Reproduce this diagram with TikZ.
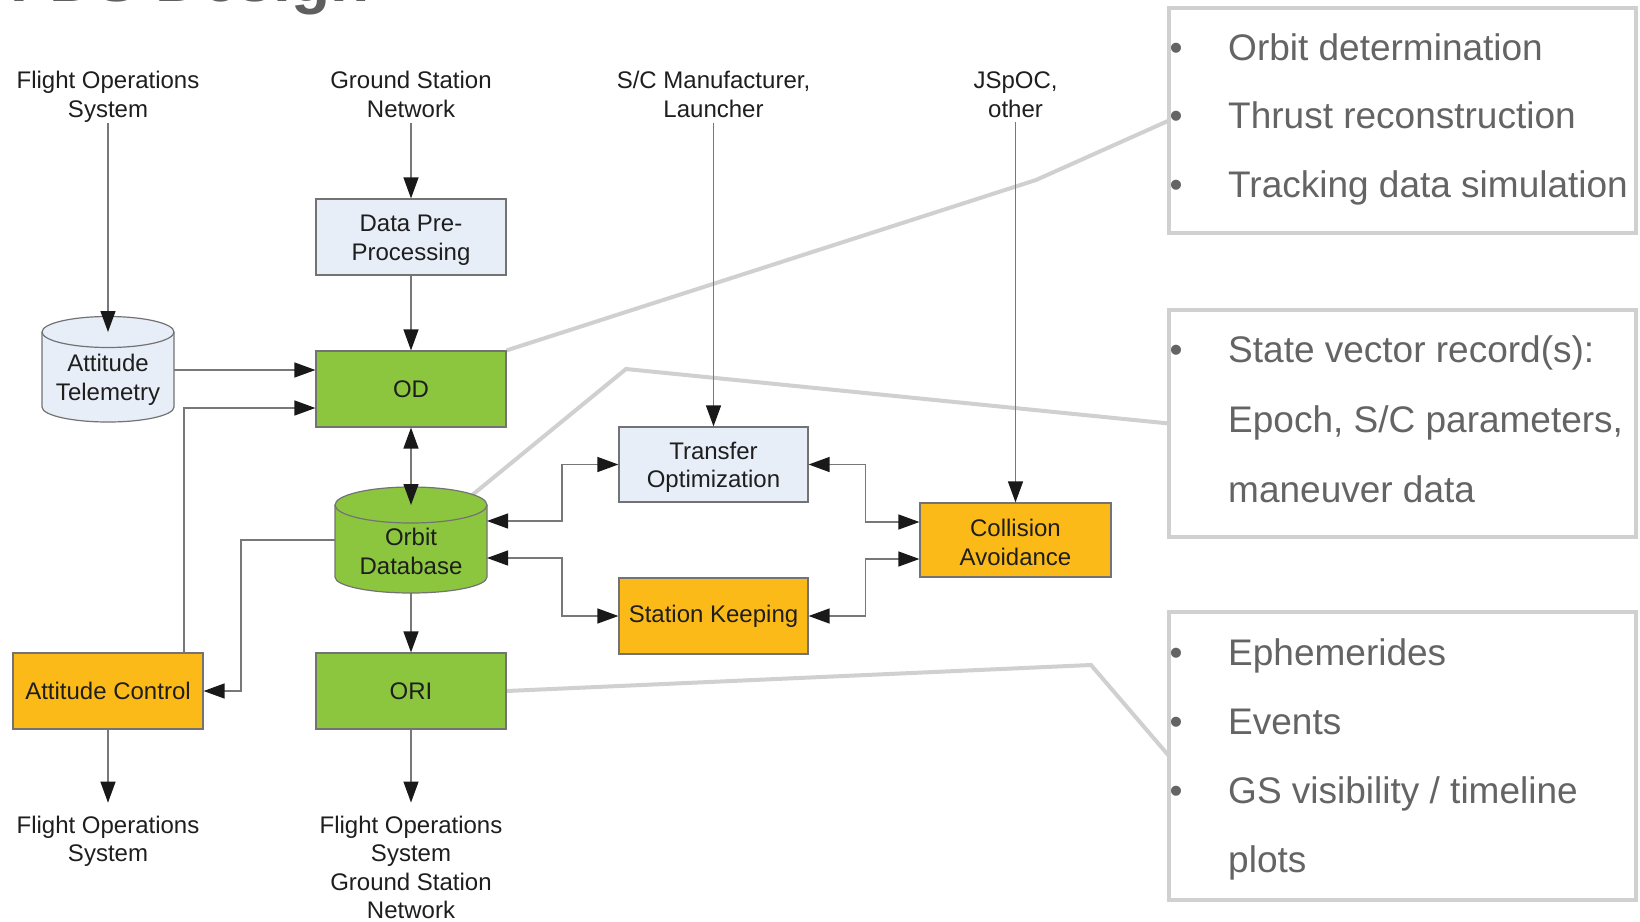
\documentclass[tikz,border=0pt]{standalone}
\usepackage{fontspec}
\setmainfont{Liberation Sans}
\usetikzlibrary{arrows.meta,backgrounds,calc}
\definecolor{boxgreen}{RGB}{140,198,63}
\definecolor{boxorange}{RGB}{252,186,24}
\definecolor{boxblue}{RGB}{232,238,247}
\definecolor{edgegray}{RGB}{115,115,115}
\definecolor{linegray}{RGB}{120,120,120}
\definecolor{tipblack}{RGB}{25,25,25}
\definecolor{callgray}{RGB}{208,208,208}
\definecolor{calltext}{RGB}{100,100,100}
\definecolor{inktext}{RGB}{30,30,30}
\definecolor{titlegray}{RGB}{95,95,95}
\newcommand{\firstline}{\rule{0pt}{22.5pt}}
\begin{document}
\begin{tikzpicture}[x=1pt,y=-1pt,
  diag/.style={font=\fontsize{24}{28.5}\selectfont, text=inktext, align=center, inner sep=0pt},
  proc/.style={diag, draw=edgegray, line width=1.2pt, minimum width=190pt, minimum height=76pt},
  greenbox/.style={proc, fill=boxgreen},
  orangebox/.style={proc, fill=boxorange},
  bluebox/.style={proc, fill=boxblue},
  cylnode/.style={diag, outer sep=0pt},
  cylshape/.style={draw=edgegray, line width=1.2pt},
  flow/.style={draw=linegray, line width=1.3pt, -{Triangle[length=21pt,width=15pt,color=tipblack]}},
  biflow/.style={draw=linegray, line width=1.3pt, {Triangle[length=21pt,width=15pt,color=tipblack]}-{Triangle[length=21pt,width=15pt,color=tipblack]}},
  callbox/.style={draw=callgray, line width=4pt, outer sep=0pt, inner sep=0pt},
  callline/.style={draw=callgray, line width=4pt},
  calltxt/.style={text=calltext, align=left, inner sep=0pt, anchor=north west},
  bulletmark/.style={font=\fontsize{37}{37}\selectfont, text=calltext, inner sep=0pt, anchor=base},
]
\useasboundingbox (0,0) rectangle (1640,921);

% title (cropped at the top edge, as in the reference)
\node[anchor=base west, inner sep=0pt, font=\bfseries\fontsize{64}{64}\selectfont, text=titlegray] (title) at (10,1) {FDS Design};

% source / sink labels
\node[diag] (fost) at (108,97) {Flight Operations\\System};
\node[diag] (gsn) at (411,94.5) {Ground Station\\Network};
\node[diag] (scm) at (713.5,94.5) {S/C Manufacturer,\\Launcher};
\node[diag] (jspoc) at (1015.5,94.5) {JSpOC,\\other};
\node[diag] (fosb) at (108,841.3) {Flight Operations\\System};
\node[diag] (fosgsn) at (411,867.3) {Flight Operations\\System\\Ground Station\\Network};

% process boxes
\node[bluebox] (dpp) at (411,237) {\firstline Data Pre-\\Processing};
\node[greenbox] (od) at (411,389) {OD};
\node[cylnode, minimum width=132pt, minimum height=90pt] (atel) at (108,377) {\firstline Attitude\\Telemetry};
\node[cylnode, minimum width=152pt, minimum height=88pt] (odb) at (411,549) {\firstline Orbit\\Database};
\node[bluebox, minimum width=189pt, minimum height=75pt] (topt) at (713.5,464.5) {\firstline Transfer\\Optimization};
\node[orangebox, minimum width=191pt, minimum height=74pt] (ca) at (1015.5,540) {\firstline Collision\\Avoidance};
\node[orangebox, minimum width=189pt] (sk) at (713.5,616) {Station Keeping};
\node[orangebox] (ac) at (108,691) {Attitude Control};
\node[greenbox] (ori) at (411,691) {ORI};

% callout boxes
\node[callbox, minimum width=467pt, minimum height=225pt] (cb1) at (1402.5,120.5) {};
\node[callbox, minimum width=467pt, minimum height=227pt] (cb2) at (1402.5,423.5) {};
\node[callbox, minimum width=467pt, minimum height=288pt] (cb3) at (1402.5,756) {};

\node[calltxt, font=\fontsize{37}{68.5}\selectfont] (t1) at (1228,33) {Orbit determination\\Thrust reconstruction\\Tracking data simulation};
\node[calltxt, font=\fontsize{37}{70}\selectfont] (t2) at (1228,335) {State vector record(s):\\Epoch, S/C parameters,\\maneuver data};
\node[calltxt, font=\fontsize{37}{69}\selectfont] (t3) at (1228,638) {Ephemerides\\Events\\GS visibility / timeline\\plots};

\node[bulletmark] (b1) at (1176,60) {•};
\node[bulletmark] (b2) at (1176,128.5) {•};
\node[bulletmark] (b3) at (1176,197) {•};
\node[bulletmark] (b4) at (1176,362) {•};
\node[bulletmark] (b5) at (1176,665) {•};
\node[bulletmark] (b6) at (1176,734) {•};
\node[bulletmark] (b7) at (1176,803) {•};

\begin{scope}[on background layer]
  \fill[white] (0,0) rectangle (1640,921);
  % callout leader lines
  \draw[callline] (od.north east) -- (1036,180) -- (cb1.west);
  \draw[callline] ([xshift=-16pt,yshift=9pt]odb.north east) -- (626,369) -- (cb2.west);
  \draw[callline] (ori.east) -- (1091,665) -- (cb3.west);
  % cylinders
  \filldraw[cylshape, fill=boxblue] (atel.north west) -- ([yshift=15pt]atel.south west)
     arc[start angle=180,end angle=360,x radius=66pt,y radius=15pt] -- (atel.north east)
     arc[start angle=0,end angle=180,x radius=66pt,y radius=15.5pt] -- cycle;
  \draw[cylshape] (atel.north west) arc[start angle=180,end angle=360,x radius=66pt,y radius=15.5pt];
  \filldraw[cylshape, fill=boxgreen] (odb.north west) -- ([yshift=16pt]odb.south west)
     arc[start angle=180,end angle=360,x radius=76pt,y radius=16pt] -- (odb.north east)
     arc[start angle=0,end angle=180,x radius=76pt,y radius=18pt] -- cycle;
  \draw[cylshape] (odb.north west) arc[start angle=180,end angle=360,x radius=76pt,y radius=18pt];
\end{scope}

% connectors
\draw[flow] (fost.south) -- (atel.north);
\draw[flow] ([yshift=-5pt]gsn.south) -- (dpp.north);
\draw[flow] ([yshift=-5pt]scm.south) -- (topt.north);
\draw[flow] ([yshift=-5pt]jspoc.south) -- (ca.north);
\draw[flow] (dpp.south) -- (od.north);
\coordinate (atelout) at ([yshift=7pt]atel.east);
\draw[flow] (atelout) -- (atelout -| od.west);
\draw[flow] ([xshift=76pt]ac.north) |- ([yshift=-19pt]od.west);
\draw[biflow] (od.south) -- (odb.north);
\draw[flow] (odb.south) -- (ori.north);
\draw[biflow] ([yshift=28pt]odb.east) -- ++(75,0) |- (topt.west);
\draw[biflow] ([yshift=-9pt]odb.east) -- ++(75,0) |- (sk.west);
\draw[biflow] (topt.east) -- ++(57,0) |- ([yshift=18pt]ca.west);
\draw[biflow] (sk.east) -- ++(57,0) |- ([yshift=-19pt]ca.west);
\coordinate (odbout) at ([yshift=9pt]odb.west);
\draw[flow] (odbout) -- ++(-94,0) |- (ac.east);
\draw[flow] (ac.south) -- ([yshift=13pt]fosb.north);
\draw[flow] (ori.south) -- ([yshift=13pt]fosgsn.north);
\end{tikzpicture}
\end{document}
